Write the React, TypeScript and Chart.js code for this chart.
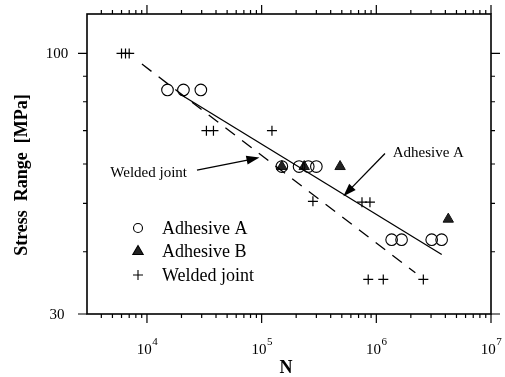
import React, { useEffect, useRef } from 'react';
import { Chart, registerables } from 'chart.js';

Chart.register(...registerables);

// ---- Data (N = cycles, S = stress range in MPa) ----
const adhesiveA_N = [15100, 20800, 29500, 150000, 212000, 255000, 300000, 1360000, 1660000, 3040000, 3710000];
const adhesiveA_S = [84.5, 84.5, 84.5, 59.3, 59.3, 59.3, 59.3, 42.3, 42.3, 42.3, 42.3];
const adhesiveB_N = [150000, 235000, 483000, 4240000];
const adhesiveB_S = [59.3, 59.3, 59.3, 46.5];
const welded_N = [6000, 6500, 7000, 33000, 38000, 123000, 280000, 750000, 880000, 850000, 1150000, 2570000];
const welded_S = [100, 100, 100, 70, 70, 70, 50.5, 50.3, 50.3, 35.2, 35.2, 35.2];
const fitA_N = [19500, 3720000];
const fitA_S = [82.8, 39.5];
const fitW_N = [9040, 2190000];
const fitW_S = [95.2, 36.3];

const seriesLabels = ['Adhesive A', 'Adhesive B', 'Welded joint'];

// annotations (data coordinates)
const annotationLabels = ['Adhesive A', 'Welded joint'];
const annotationTextN = [1390000, 4790];
const annotationTextS = [62.1, 56.6];
const arrowFromN = [1190000, 27300];
const arrowFromS = [63.0, 58.3];
const arrowToN = [516000, 95700];
const arrowToS = [51.7, 61.8];

// axes
const xMin = 3000;
const xMax = 1e7;
const yMin = 30;
const yMax = 120;
const xMajorTicks = [1e4, 1e5, 1e6, 1e7];
const xTickExponents = ['4', '5', '6', '7'];
const yMajorTicks = [30, 100];
const yTickLabels = ['30', '100'];
const yMinorTicks = [40, 50, 60, 70, 80, 90];
const xTitle = 'N';
const yTitle = 'Stress  Range  [MPa]';

const FONT = "'Liberation Serif', 'Times New Roman', Times, serif";

const xMinorTicks: number[] = [];
for (let e = 3; e < 7; e++) {
  for (let m = 2; m <= 9; m++) {
    const v = m * Math.pow(10, e);
    if (v > xMin && v < xMax) xMinorTicks.push(v);
  }
}

const toPts = (xs: number[], ys: number[]) => xs.map((x, i) => ({ x, y: ys[i] }));

function drawSymbol(ctx: CanvasRenderingContext2D, style: string, x: number, y: number, r: number) {
  ctx.save();
  ctx.strokeStyle = '#000';
  ctx.fillStyle = '#222';
  ctx.lineWidth = 1.1;
  ctx.beginPath();
  if (style === 'circle') {
    ctx.arc(x, y, r, 0, Math.PI * 2);
    ctx.stroke();
  } else if (style === 'triangle') {
    ctx.moveTo(x, y - r);
    ctx.lineTo(x + r * 0.866, y + r * 0.5);
    ctx.lineTo(x - r * 0.866, y + r * 0.5);
    ctx.closePath();
    ctx.fill();
    ctx.stroke();
  } else {
    ctx.moveTo(x - r, y);
    ctx.lineTo(x + r, y);
    ctx.moveTo(x, y - r);
    ctx.lineTo(x, y + r);
    ctx.stroke();
  }
  ctx.restore();
}

function drawArrow(ctx: CanvasRenderingContext2D, x1: number, y1: number, x2: number, y2: number) {
  ctx.save();
  ctx.strokeStyle = '#000';
  ctx.fillStyle = '#000';
  ctx.lineWidth = 1.3;
  const a = Math.atan2(y2 - y1, x2 - x1);
  const L = 13;
  const W = 4.5;
  ctx.beginPath();
  ctx.moveTo(x1, y1);
  ctx.lineTo(x2 - (L - 2) * Math.cos(a), y2 - (L - 2) * Math.sin(a));
  ctx.stroke();
  ctx.beginPath();
  ctx.moveTo(x2, y2);
  ctx.lineTo(x2 - L * Math.cos(a) + W * Math.sin(a), y2 - L * Math.sin(a) - W * Math.cos(a));
  ctx.lineTo(x2 - L * Math.cos(a) - W * Math.sin(a), y2 - L * Math.sin(a) + W * Math.cos(a));
  ctx.closePath();
  ctx.fill();
  ctx.restore();
}

const framePlugin = {
  id: 'frame',
  afterDraw(chart: any) {
    const ctx: CanvasRenderingContext2D = chart.ctx;
    const area = chart.chartArea;
    const xs = chart.scales.x;
    const ys = chart.scales.y;
    ctx.save();
    ctx.strokeStyle = '#000';
    ctx.fillStyle = '#000';

    // frame
    ctx.lineWidth = 1.6;
    ctx.strokeRect(area.left, area.top, area.right - area.left, area.bottom - area.top);

    // ticks
    ctx.lineWidth = 1.2;
    const xTick = (v: number, len: number) => {
      const px = xs.getPixelForValue(v);
      ctx.beginPath();
      ctx.moveTo(px, area.bottom);
      ctx.lineTo(px, area.bottom + len);
      ctx.moveTo(px, area.top);
      ctx.lineTo(px, area.top - len);
      ctx.stroke();
    };
    const yTick = (v: number, len: number) => {
      const py = ys.getPixelForValue(v);
      ctx.beginPath();
      ctx.moveTo(area.left, py);
      ctx.lineTo(area.left - len, py);
      ctx.moveTo(area.right, py);
      ctx.lineTo(area.right + len, py);
      ctx.stroke();
    };
    xMinorTicks.forEach((v) => xTick(v, 4));
    xMajorTicks.forEach((v) => xTick(v, 9));
    yMinorTicks.forEach((v) => yTick(v, 4));
    yMajorTicks.forEach((v) => yTick(v, 9));

    // x tick labels 10^n
    xMajorTicks.forEach((v, i) => {
      const px = xs.getPixelForValue(v);
      ctx.font = `15px ${FONT}`;
      const w1 = ctx.measureText('10').width;
      ctx.font = `11px ${FONT}`;
      const w2 = ctx.measureText(xTickExponents[i]).width;
      const start = px - (w1 + w2) / 2;
      ctx.textAlign = 'left';
      ctx.textBaseline = 'alphabetic';
      ctx.font = `15px ${FONT}`;
      ctx.fillText('10', start, area.bottom + 39.5);
      ctx.font = `11px ${FONT}`;
      ctx.fillText(xTickExponents[i], start + w1 + 0.5, area.bottom + 31);
    });

    // y tick labels
    ctx.font = `15px ${FONT}`;
    ctx.textAlign = 'center';
    ctx.textBaseline = 'middle';
    yMajorTicks.forEach((v, i) => {
      const py = ys.getPixelForValue(v);
      ctx.fillText(yTickLabels[i], area.left - 30, py + 1);
    });

    // axis titles
    ctx.font = `bold 18px ${FONT}`;
    ctx.textAlign = 'center';
    ctx.textBaseline = 'alphabetic';
    ctx.fillText(xTitle, (area.left + area.right) / 2 - 3, area.bottom + 59);
    ctx.save();
    ctx.translate(area.left - 65, (area.top + area.bottom) / 2 + 11);
    ctx.rotate(-Math.PI / 2);
    ctx.textBaseline = 'middle';
    ctx.fillText(yTitle, 0, 0);
    ctx.restore();

    // annotations
    ctx.font = `15px ${FONT}`;
    ctx.textAlign = 'left';
    ctx.textBaseline = 'alphabetic';
    annotationLabels.forEach((t, i) => {
      ctx.fillText(t, xs.getPixelForValue(annotationTextN[i]), ys.getPixelForValue(annotationTextS[i]));
      drawArrow(
        ctx,
        xs.getPixelForValue(arrowFromN[i]),
        ys.getPixelForValue(arrowFromS[i]),
        xs.getPixelForValue(arrowToN[i]),
        ys.getPixelForValue(arrowToS[i])
      );
    });

    // legend
    const styles = ['circle', 'triangle', 'cross'];
    const radii = [4.5, 6, 5];
    ctx.font = `18px ${FONT}`;
    ctx.textBaseline = 'middle';
    ctx.fillStyle = '#000';
    seriesLabels.forEach((label, i) => {
      const y = area.top + 214 + i * 23.5;
      drawSymbol(ctx, styles[i], area.left + 51, y, radii[i]);
      ctx.fillStyle = '#000';
      ctx.fillText(label, area.left + 75, y + 1);
    });

    ctx.restore();
  },
};

export default function App() {
  const canvasRef = useRef<HTMLCanvasElement | null>(null);

  useEffect(() => {
    if (!canvasRef.current) return;
    const chart = new Chart(canvasRef.current, {
      type: 'scatter',
      data: {
        datasets: [
          {
            label: 'fitA',
            type: 'line',
            data: toPts(fitA_N, fitA_S),
            borderColor: '#000',
            borderWidth: 1.3,
            pointRadius: 0,
            showLine: true,
            fill: false,
          } as any,
          {
            label: 'fitW',
            type: 'line',
            data: toPts(fitW_N, fitW_S),
            borderColor: '#000',
            borderWidth: 1.3,
            borderDash: [12, 9],
            pointRadius: 0,
            showLine: true,
            fill: false,
          } as any,
          {
            label: seriesLabels[0],
            data: toPts(adhesiveA_N, adhesiveA_S),
            pointStyle: 'circle',
            pointRadius: 5.8,
            pointBorderWidth: 1.1,
            pointBorderColor: '#000',
            pointBackgroundColor: 'rgba(0,0,0,0)',
            showLine: false,
          },
          {
            label: seriesLabels[1],
            data: toPts(adhesiveB_N, adhesiveB_S),
            pointStyle: 'triangle',
            pointRadius: 6,
            pointBorderWidth: 1,
            pointBorderColor: '#111',
            pointBackgroundColor: '#222',
            showLine: false,
          },
          {
            label: seriesLabels[2],
            data: toPts(welded_N, welded_S),
            pointStyle: 'cross',
            pointRadius: 5,
            pointBorderWidth: 1.2,
            pointBorderColor: '#000',
            showLine: false,
          },
        ],
      },
      options: {
        responsive: false,
        devicePixelRatio: 1,
        animation: false,
        layout: { padding: { left: 87, top: 14, right: 14, bottom: 63 } },
        plugins: { legend: { display: false }, tooltip: { enabled: false } },
        scales: {
          x: { type: 'logarithmic', min: xMin, max: xMax, display: false },
          y: { type: 'logarithmic', min: yMin, max: yMax, display: false },
        },
      },
      plugins: [framePlugin],
    });
    return () => chart.destroy();
  }, []);

  return (
    <div style={{ position: 'fixed', left: 0, top: 0, width: 505, height: 377, background: '#fff' }}>
      <canvas ref={canvasRef} width={505} height={377} style={{ display: 'block', width: 505, height: 377 }} />
    </div>
  );
}
